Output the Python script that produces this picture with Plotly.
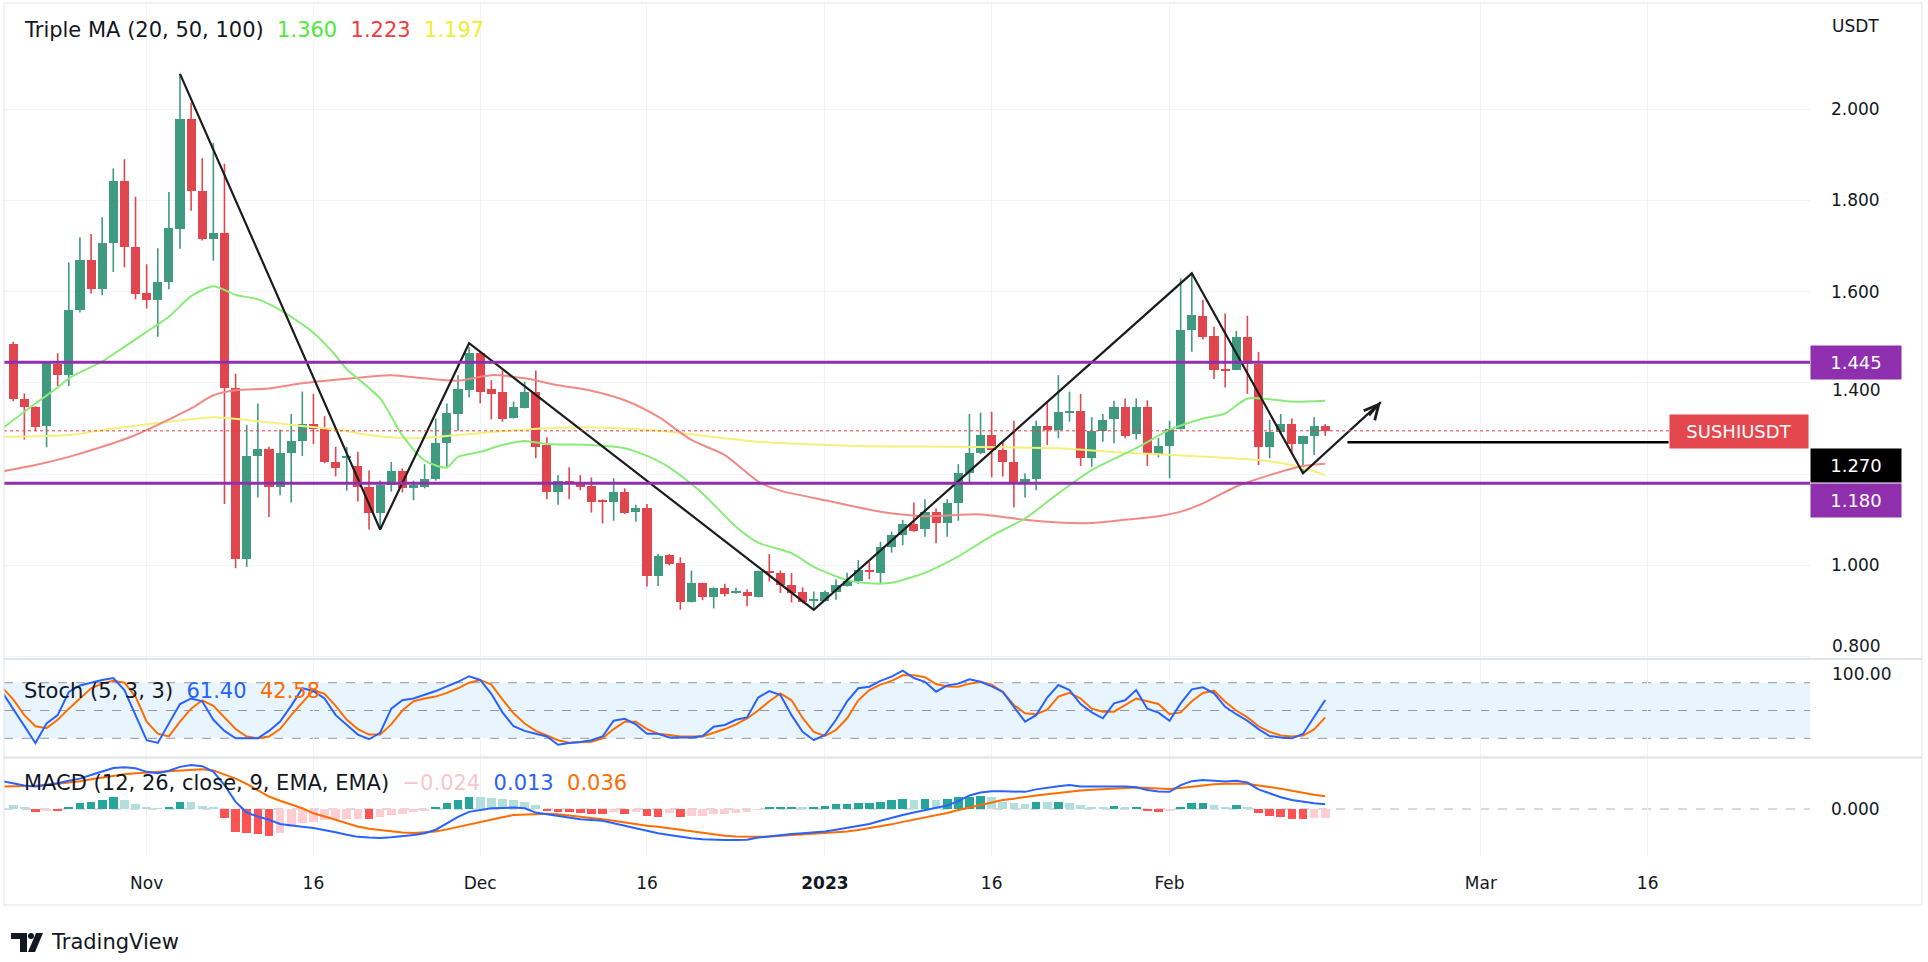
import pandas as pd
import plotly.graph_objects as go

W, H = 1928, 962

# ---------------- candles (daily, from 2022-10-20) ----------------
first_day = "2022-10-20"
opens = [1.485, 1.365, 1.348, 1.306, 1.441, 1.417, 1.560, 1.669, 1.606, 1.707, 1.842, 1.698,
         1.596, 1.582, 1.620, 1.738, 1.979, 1.821, 1.715, 1.728, 1.388, 1.014, 1.240, 1.256, 1.173, 1.246, 1.272,
         1.310, 1.298, 1.227, 1.235, 1.219, 1.171, 1.116, 1.176, 1.208, 1.169, 1.173, 1.189, 1.268, 1.332, 1.384,
         1.465, 1.386, 1.380, 1.324, 1.346, 1.380, 1.264, 1.160, 1.186, 1.184, 1.174, 1.142, 1.140, 1.161, 1.118,
         1.125, 0.976, 1.023, 1.005, 0.921, 0.962, 0.932, 0.950, 0.941, 0.941, 0.932, 0.987, 0.983, 0.957, 0.943, 0.923,
         0.923, 0.941, 0.955, 0.965, 0.989, 0.984, 1.041, 1.067, 1.091, 1.079, 1.118, 1.094, 1.138, 1.203, 1.247,
         1.286, 1.254, 1.227, 1.179, 1.189, 1.306, 1.297, 1.335, 1.339, 1.235, 1.295, 1.320, 1.348, 1.288, 1.348, 1.244,
         1.262, 1.298, 1.517, 1.547, 1.503, 1.430, 1.428, 1.500, 1.441, 1.259, 1.293, 1.310, 1.266, 1.284, 1.306]
highs = [1.490, 1.377, 1.349, 1.447, 1.465, 1.664, 1.719, 1.726, 1.763, 1.870, 1.890, 1.808,
         1.660, 1.695, 1.818, 2.077, 2.014, 1.892, 1.926, 1.880, 1.420, 1.308, 1.355, 1.260, 1.298, 1.332, 1.381,
         1.376, 1.327, 1.260, 1.260, 1.249, 1.208, 1.186, 1.227, 1.213, 1.186, 1.222, 1.322, 1.355, 1.417, 1.478,
         1.468, 1.406, 1.427, 1.359, 1.403, 1.427, 1.281, 1.198, 1.215, 1.198, 1.193, 1.145, 1.191, 1.169, 1.133,
         1.135, 1.025, 1.025, 1.018, 0.989, 0.962, 0.952, 0.960, 0.952, 0.948, 0.989, 1.025, 0.989, 0.984, 0.952, 0.943,
         0.945, 0.970, 0.984, 1.012, 1.008, 1.052, 1.074, 1.100, 1.138, 1.145, 1.125, 1.145, 1.222, 1.332, 1.335,
         1.337, 1.271, 1.317, 1.202, 1.317, 1.355, 1.417, 1.381, 1.376, 1.325, 1.332, 1.361, 1.366, 1.366, 1.362, 1.279,
         1.317, 1.629, 1.640, 1.582, 1.523, 1.552, 1.514, 1.547, 1.468, 1.319, 1.332, 1.322, 1.284, 1.325, 1.310]
lows = [1.360, 1.276, 1.295, 1.259, 1.393, 1.393, 1.554, 1.596, 1.592, 1.643, 1.653, 1.583,
        1.563, 1.501, 1.605, 1.694, 1.777, 1.712, 1.668, 1.135, 0.994, 0.997, 1.149, 1.106, 1.154, 1.138, 1.240,
        1.266, 1.224, 1.195, 1.164, 1.140, 1.079, 1.081, 1.162, 1.160, 1.143, 1.169, 1.186, 1.213, 1.295, 1.368,
        1.355, 1.320, 1.315, 1.322, 1.344, 1.235, 1.145, 1.133, 1.145, 1.165, 1.116, 1.092, 1.098, 1.113, 1.096,
        0.954, 0.955, 1.000, 0.903, 0.919, 0.924, 0.906, 0.932, 0.938, 0.911, 0.930, 0.965, 0.940, 0.919, 0.917, 0.903,
        0.921, 0.925, 0.954, 0.960, 0.970, 0.960, 1.028, 1.045, 1.074, 1.063, 1.049, 1.063, 1.098, 1.181, 1.244,
        1.193, 1.195, 1.127, 1.149, 1.165, 1.264, 1.279, 1.315, 1.218, 1.216, 1.271, 1.268, 1.279, 1.276, 1.218, 1.237,
        1.191, 1.298, 1.468, 1.495, 1.408, 1.390, 1.428, 1.376, 1.220, 1.235, 1.290, 1.247, 1.202, 1.242, 1.284]
closes = [1.364, 1.348, 1.303, 1.443, 1.417, 1.560, 1.669, 1.606, 1.707, 1.842, 1.697, 1.595,
          1.582, 1.620, 1.739, 1.979, 1.820, 1.715, 1.728, 1.388, 1.014, 1.240, 1.256, 1.173, 1.246, 1.272, 1.310,
          1.298, 1.227, 1.213, 1.240, 1.171, 1.116, 1.176, 1.208, 1.169, 1.176, 1.190, 1.269, 1.333, 1.386, 1.465,
          1.381, 1.376, 1.322, 1.348, 1.380, 1.259, 1.160, 1.186, 1.181, 1.171, 1.140, 1.139, 1.161, 1.116, 1.125,
          0.976, 1.021, 1.003, 0.921, 0.962, 0.932, 0.950, 0.938, 0.943, 0.933, 0.987, 0.983, 0.957, 0.939, 0.921, 0.925,
          0.943, 0.957, 0.967, 0.990, 0.986, 1.041, 1.067, 1.091, 1.076, 1.118, 1.094, 1.138, 1.203, 1.246, 1.286,
          1.254, 1.227, 1.179, 1.189, 1.306, 1.297, 1.337, 1.338, 1.235, 1.295, 1.319, 1.348, 1.284, 1.348, 1.244, 1.262,
          1.300, 1.517, 1.549, 1.501, 1.428, 1.427, 1.501, 1.441, 1.259, 1.293, 1.311, 1.266, 1.284, 1.306, 1.295]

# ---------------- Triple MA ----------------
ma20_dates = ["2022-10-19", "2022-10-22", "2022-10-24", "2022-10-25", "2022-10-28", "2022-10-30", "2022-11-01",
              "2022-11-03", "2022-11-05", "2022-11-07", "2022-11-09", "2022-11-11", "2022-11-13", "2022-11-16",
              "2022-11-18", "2022-11-19", "2022-11-22", "2022-11-24", "2022-11-26", "2022-11-28", "2022-11-29",
              "2022-12-01", "2022-12-03", "2022-12-05", "2022-12-07", "2022-12-11", "2022-12-14", "2022-12-16",
              "2022-12-18", "2022-12-21", "2022-12-24", "2022-12-26", "2022-12-29", "2022-12-31", "2023-01-03",
              "2023-01-05", "2023-01-07", "2023-01-09", "2023-01-10", "2023-01-13", "2023-01-16", "2023-01-19",
              "2023-01-22", "2023-01-25", "2023-01-29", "2023-02-01", "2023-02-04", "2023-02-06", "2023-02-08",
              "2023-02-10", "2023-02-12", "2023-02-15"]
ma20_vals = [1.300, 1.355, 1.390, 1.410, 1.447, 1.479, 1.512, 1.545, 1.590, 1.612, 1.593, 1.583, 1.560, 1.510,
             1.460, 1.430, 1.366, 1.285, 1.230, 1.215, 1.238, 1.249, 1.264, 1.273, 1.266, 1.264, 1.257, 1.240,
             1.215, 1.158, 1.085, 1.050, 1.027, 0.997, 0.968, 0.961, 0.962, 0.976, 0.984, 1.020, 1.065, 1.103,
             1.158, 1.209, 1.257, 1.297, 1.322, 1.333, 1.366, 1.364, 1.359, 1.361]
ma50_dates = ["2022-10-19", "2022-10-22", "2022-10-25", "2022-10-28", "2022-10-31", "2022-11-02", "2022-11-05",
              "2022-11-07", "2022-11-09", "2022-11-12", "2022-11-15", "2022-11-18", "2022-11-23", "2022-11-26",
              "2022-11-29", "2022-12-02", "2022-12-05", "2022-12-08", "2022-12-11", "2022-12-14", "2022-12-17",
              "2022-12-20", "2022-12-23", "2022-12-26", "2022-12-28", "2023-01-01", "2023-01-06", "2023-01-10",
              "2023-01-15", "2023-01-19", "2023-01-22", "2023-01-25", "2023-01-28", "2023-01-31", "2023-02-02",
              "2023-02-04", "2023-02-07", "2023-02-10", "2023-02-13", "2023-02-15"]
ma50_vals = [1.206, 1.220, 1.238, 1.260, 1.286, 1.308, 1.344, 1.373, 1.384, 1.388, 1.399, 1.407, 1.417, 1.410,
             1.405, 1.417, 1.410, 1.395, 1.383, 1.362, 1.326, 1.275, 1.242, 1.184, 1.164, 1.143, 1.118, 1.108,
             1.112, 1.100, 1.094, 1.093, 1.100, 1.108, 1.118, 1.136, 1.173, 1.198, 1.218, 1.223]
ma100_dates = ["2022-10-19", "2022-10-25", "2022-10-29", "2022-11-03", "2022-11-07", "2022-11-10", "2022-11-14",
               "2022-11-18", "2022-11-21", "2022-11-25", "2022-11-29", "2022-12-05", "2022-12-10", "2022-12-14",
               "2022-12-18", "2022-12-26", "2023-01-04", "2023-01-13", "2023-01-22", "2023-01-28", "2023-02-03",
               "2023-02-09", "2023-02-12", "2023-02-15"]
ma100_vals = [1.282, 1.286, 1.300, 1.315, 1.325, 1.319, 1.308, 1.298, 1.286, 1.279, 1.286, 1.298, 1.303, 1.300,
              1.293, 1.271, 1.262, 1.260, 1.257, 1.247, 1.240, 1.231, 1.220, 1.198]

# ---------------- Stochastic (5,3,3), daily from 2022-10-19 ----------------
ind_start = "2022-10-19"
stoch_k = [70, 52, 33, 15, 36, 45, 70, 77, 80, 83, 85, 72, 45,
           18, 15, 36, 57, 63, 60, 40, 28, 20, 20, 20, 28, 38, 55, 74, 71, 63, 45, 34, 24, 19, 26, 52, 61, 63, 67, 71, 76, 81, 87,
           83, 68, 48, 33, 28, 25, 22, 13, 15, 16, 18, 22, 39, 41, 35, 25, 25, 21, 21, 21, 22.5, 32.6, 34.4, 40, 42.6, 64, 71, 66.7, 45, 27, 18,
           23.6, 40, 60, 74, 75.7, 82, 86.5, 93, 85, 81, 70.3, 77, 79, 83.6, 81, 76, 70, 54, 38, 45, 64, 77.5, 72, 57, 48, 41.6, 57.7, 61, 72, 52, 47.7,
           39, 57.7, 72.8, 75, 68.5, 54, 46, 39, 30, 22.5, 21, 20, 24.7, 42.6, 61.4]
stoch_d = [75, 62, 45, 33, 31, 40, 52, 63, 74, 79, 82, 80, 65,
           38, 25, 22, 38, 52, 61, 55, 43, 30, 22, 20, 22, 30, 45, 58, 72, 68, 55, 40, 30, 24, 24, 35, 50, 60, 63, 65, 69, 74, 80,
           83, 78, 62, 47, 36, 28, 23, 18, 15.3, 16, 16.4, 20, 30, 38, 38, 30, 25, 23.6, 22, 22, 22, 26, 30, 35, 41.6, 50, 60, 68.5, 61, 42, 27,
           22.5, 29, 41.6, 61, 72, 78, 82, 88, 88, 86, 78.6, 76, 75.7, 79, 81, 78, 70, 56, 47, 46, 51, 65, 69, 63, 52, 48.7, 48.7, 56, 63, 60, 57,
           46, 48, 60, 69, 71.4, 59.5, 50, 42.6, 33, 27, 23, 22, 23, 29.7, 42.58]

# ---------------- MACD (12,26,close,9), daily from 2022-10-19 ----------------
macd_line = [0.078, 0.072, 0.066, 0.063, 0.067, 0.072, 0.079, 0.085, 0.095, 0.105, 0.115, 0.117, 0.114,
             0.104, 0.100, 0.107, 0.118, 0.123, 0.120, 0.105, 0.067, 0.020, -0.010, -0.021, -0.030, -0.042, -0.047,
             -0.050, -0.053, -0.058, -0.065, -0.072, -0.078, -0.080, -0.081, -0.079, -0.077, -0.073, -0.068, -0.058,
             -0.040, -0.022, -0.008, -0.002, 0.002, 0.003, 0.004, 0.002, -0.010, -0.015, -0.020, -0.025, -0.029,
             -0.031, -0.033, -0.040, -0.047, -0.055, -0.062, -0.068, -0.073, -0.078, -0.082, -0.085, -0.087, -0.087,
             -0.087, -0.086, -0.080, -0.076, -0.073, -0.070, -0.068, -0.066, -0.063, -0.058, -0.053, -0.047, -0.042,
             -0.033, -0.024, -0.017, -0.010, -0.004, 0.004, 0.010, 0.022, 0.038, 0.046, 0.050, 0.050, 0.048, 0.048,
             0.055, 0.060, 0.064, 0.067, 0.063, 0.063, 0.063, 0.064, 0.063, 0.061, 0.053, 0.049, 0.048, 0.067, 0.078,
             0.081, 0.078, 0.077, 0.079, 0.074, 0.055, 0.043, 0.033, 0.025, 0.020, 0.016, 0.013]
macd_signal = [0.063, 0.063, 0.064, 0.065, 0.067, 0.070, 0.074, 0.078, 0.083, 0.088, 0.093, 0.097, 0.100,
               0.102, 0.104, 0.106, 0.108, 0.110, 0.111, 0.108, 0.097, 0.085, 0.070, 0.052, 0.035, 0.023, 0.012,
               0.002, -0.012, -0.020, -0.030, -0.040, -0.049, -0.055, -0.059, -0.063, -0.066, -0.067, -0.066, -0.063,
               -0.057, -0.050, -0.042, -0.036, -0.030, -0.023, -0.017, -0.015, -0.014, -0.013, -0.015, -0.018, -0.021,
               -0.025, -0.029, -0.033, -0.038, -0.043, -0.047, -0.050, -0.054, -0.058, -0.063, -0.068, -0.072, -0.075,
               -0.077, -0.078, -0.078, -0.077, -0.075, -0.073, -0.071, -0.069, -0.068, -0.066, -0.063, -0.059, -0.054,
               -0.048, -0.043, -0.036, -0.030, -0.024, -0.018, -0.011, -0.003, 0.004, 0.011, 0.017, 0.025, 0.029, 0.034,
               0.038, 0.041, 0.045, 0.049, 0.052, 0.054, 0.056, 0.058, 0.059, 0.060, 0.059, 0.057, 0.056, 0.059, 0.063,
               0.066, 0.069, 0.071, 0.072, 0.071, 0.066, 0.062, 0.057, 0.051, 0.045, 0.040, 0.036]
hist_start = "2022-10-20"
macd_hist = [0.012, 0.006, -0.008, -0.004, -0.005, 0.006, 0.017, 0.021, 0.024, 0.035, 0.026, 0.014,
             0.007, 0.002, 0.007, 0.020, 0.019, 0.009, 0.003, -0.025, -0.065, -0.067, -0.069, -0.075, -0.067, -0.051,
             -0.039, -0.037, -0.030, -0.028, -0.0275, -0.027, -0.028, -0.021, -0.017, -0.014, -0.008, -0.004, 0.007,
             0.017, 0.024, 0.035, 0.034, 0.031, 0.028, 0.024, 0.019, 0.012, -0.004, -0.007, -0.008, -0.011, -0.014,
             -0.0145, -0.008, -0.015, -0.009, -0.019, -0.021, -0.011, -0.022, -0.020, -0.019, -0.014, -0.0135, -0.011,
             -0.007, -0.002, 0.006, 0.0062, 0.0064, 0.004, 0.006, 0.009, 0.013, 0.0132, 0.017, 0.0172, 0.021, 0.024,
             0.029, 0.026, 0.028, 0.024, 0.028, 0.033, 0.035, 0.036, 0.034, 0.021, 0.017, 0.015, 0.020, 0.019, 0.020,
             0.017, 0.012, 0.007, 0.007, 0.009, 0.004, 0.006, -0.005, -0.008, -0.005, 0.006, 0.017, 0.0172, 0.012,
             0.007, 0.010, 0.004, -0.011, -0.019, -0.023, -0.027, -0.028, -0.026, -0.024]

# ---------------- drawings ----------------
zigzag_dates = ["2022-11-04", "2022-11-22", "2022-11-30", "2022-12-31", "2023-02-03", "2023-02-13", "2023-02-20"]
zigzag_prices = [2.077, 1.079, 1.487, 0.903, 1.640, 1.202, 1.358]
levels = [1.445, 1.180]
target_level = 1.270
target_dates = ["2023-02-17", "2023-03-17 21:00"]
last_price = 1.295
legend_ma = ["1.360", "1.223", "1.197"]
legend_stoch = ["61.40", "42.58"]
legend_macd = ["\u22120.024", "0.013", "0.036"]

x_tickvals = ["2022-11-01", "2022-11-16", "2022-12-01", "2022-12-16", "2023-01-01", "2023-01-16",
              "2023-02-01", "2023-03-01", "2023-03-16"]
x_ticktext = ["Nov", "16", "Dec", "16", "<b>2023</b>", "16", "Feb", "Mar", "16"]
price_ticks = [0.8, 1.0, 1.2, 1.4, 1.6, 1.8, 2.0]
price_ticktext = ["", "1.000", "", "", "1.600", "1.800", "2.000"]   # 0.800 / 1.400 drawn beside the badges

# ---------------- styling ----------------
FONT = "DejaVu Sans"
TXT = "#131722"
UP, DOWN = "#3f9a80", "#e0464e"
GRID = "#f0f3fa"
PURPLE = "#8f2fae"


def px(x):
    return x / W


def py(y):
    return 1 - y / H


dates = pd.date_range(first_day, periods=len(opens), freq="D")
ind_dates = pd.date_range(ind_start, periods=len(stoch_k), freq="D")
macd_dates = pd.date_range(ind_start, periods=len(macd_line), freq="D")
hdates = pd.date_range(hist_start, periods=len(macd_hist), freq="D")
DAY_MS = 86400000

fig = go.Figure()

# wicks
for up in (True, False):
    xs, ys = [], []
    for d, o, h, l, c in zip(dates, opens, highs, lows, closes):
        if (c >= o) == up:
            xs += [d, d, None]
            ys += [l, h, None]
    fig.add_trace(go.Scatter(x=xs, y=ys, mode="lines", line=dict(color=UP if up else DOWN, width=1.6),
                             hoverinfo="skip", xaxis="x", yaxis="y"))

# bodies
fig.add_trace(go.Bar(x=dates, y=[c - o for o, c in zip(opens, closes)], base=opens,
                     width=0.82 * DAY_MS,
                     marker=dict(color=[UP if c >= o else DOWN for o, c in zip(opens, closes)], line=dict(width=0)),
                     xaxis="x", yaxis="y"))

# moving averages
for dts, vals, col in ((ma100_dates, ma100_vals, "#f3f07e"), (ma50_dates, ma50_vals, "#f08a84"),
                       (ma20_dates, ma20_vals, "#8aec78")):
    fig.add_trace(go.Scatter(x=dts, y=vals, mode="lines", line=dict(color=col, width=2, shape="spline", smoothing=0.7),
                             xaxis="x", yaxis="y"))

# zigzag
fig.add_trace(go.Scatter(x=zigzag_dates, y=zigzag_prices, mode="lines", line=dict(color="#1c1c1c", width=2.2),
                         xaxis="x", yaxis="y"))

# stochastic
fig.add_trace(go.Scatter(x=ind_dates, y=stoch_d, mode="lines", line=dict(color="#ff6d00", width=2), xaxis="x", yaxis="y2"))
fig.add_trace(go.Scatter(x=ind_dates, y=stoch_k, mode="lines", line=dict(color="#2962ff", width=2), xaxis="x", yaxis="y2"))

# MACD histogram
hcols = []
prev = None
for v in macd_hist:
    rising = prev is not None and v > prev
    if v >= 0:
        hcols.append("#26a69a" if rising else "#b2dfdb")
    else:
        hcols.append("#ffcdd2" if rising else "#ff5252")
    prev = v
fig.add_trace(go.Bar(x=hdates, y=macd_hist, width=0.78 * DAY_MS, marker=dict(color=hcols, line=dict(width=0)),
                     xaxis="x", yaxis="y3"))
fig.add_trace(go.Scatter(x=macd_dates, y=macd_signal, mode="lines", line=dict(color="#ff6d00", width=2), xaxis="x", yaxis="y3"))
fig.add_trace(go.Scatter(x=macd_dates, y=macd_line, mode="lines", line=dict(color="#2962ff", width=2), xaxis="x", yaxis="y3"))

shapes = []
# stoch band and levels
shapes.append(dict(type="rect", xref="x domain", yref="y2", x0=0, x1=1, y0=20, y1=80,
                   fillcolor="rgba(33,150,243,0.10)", line=dict(width=0), layer="below"))
for lv in (80, 50, 20):
    shapes.append(dict(type="line", xref="x domain", yref="y2", x0=0, x1=1, y0=lv, y1=lv,
                       line=dict(color="#9598a1", width=1, dash="dash"), layer="below"))
shapes.append(dict(type="line", xref="x domain", yref="y3", x0=0, x1=1, y0=0, y1=0,
                   line=dict(color="#b2b5be", width=1, dash="dash"), layer="below"))
# purple levels
for lv in levels:
    shapes.append(dict(type="line", xref="x domain", yref="y", x0=0, x1=1, y0=lv, y1=lv,
                       line=dict(color=PURPLE, width=3)))
# last price dotted
shapes.append(dict(type="line", xref="x domain", yref="y", x0=0, x1=(1669 - 4) / (1810 - 4), y0=last_price, y1=last_price,
                   line=dict(color="#f23645", width=1, dash="dot")))
# target line
shapes.append(dict(type="line", xref="x", yref="y", x0=target_dates[0], x1=target_dates[1],
                   y0=target_level, y1=target_level, line=dict(color="#000000", width=2.5)))
# frame and separators
shapes.append(dict(type="rect", xref="paper", yref="paper", x0=px(4), x1=px(1922), y0=py(905), y1=py(3),
                   line=dict(color="#e0e3eb", width=1)))
for yy in (659, 757.5):
    shapes.append(dict(type="line", xref="paper", yref="paper", x0=px(4), x1=px(1922), y0=py(yy), y1=py(yy),
                       line=dict(color="#e0e3eb", width=2)))


# TradingView logo glyph
def pth(pts):
    return "M" + " L".join(f"{px(a):.5f},{py(b):.5f}" for a, b in pts) + " Z"


shapes.append(dict(type="path", xref="paper", yref="paper",
                   path=pth([(11, 933), (27, 933), (27, 952), (20, 952), (20, 939), (11, 939)]),
                   fillcolor=TXT, line=dict(width=0)))
shapes.append(dict(type="circle", xref="paper", yref="paper", x0=px(28), x1=px(34), y0=py(939), y1=py(933),
                   fillcolor=TXT, line=dict(width=0)))
shapes.append(dict(type="path", xref="paper", yref="paper",
                   path=pth([(36, 933), (43, 933), (35, 952), (28, 952)]), fillcolor=TXT, line=dict(width=0)))

ann = []


def label(x, y, text, size=18, color=TXT, xanchor="left", yanchor="middle", **kw):
    ann.append(dict(xref="paper", yref="paper", x=px(x), y=py(y), text=text, showarrow=False,
                    xanchor=xanchor, yanchor=yanchor, font=dict(family=FONT, size=size, color=color), **kw))


sp = "&nbsp;&nbsp;"
label(22, 30, "Triple MA (20, 50, 100)" + sp + f"<span style='color:#4fe83a'>{legend_ma[0]}</span>" + sp +
      f"<span style='color:#f23b3b'>{legend_ma[1]}</span>" + sp + f"<span style='color:#eeee30'>{legend_ma[2]}</span>", size=21)
label(22, 691, "Stoch (5, 3, 3)" + sp + f"<span style='color:#2962ff'>{legend_stoch[0]}</span>" + sp +
      f"<span style='color:#ff6d00'>{legend_stoch[1]}</span>", size=21)
label(22, 783, "MACD (12, 26, close, 9, EMA, EMA)" + sp + f"<span style='color:#f8c6cb'>{legend_macd[0]}</span>" + sp +
      f"<span style='color:#2962ff'>{legend_macd[1]}</span>" + sp + f"<span style='color:#ff6d00'>{legend_macd[2]}</span>", size=21)
label(1830, 26, "USDT", size=17)
# price-scale labels squeezed at the pane boundary / below the level badge
label(1830, 658, "0.800", size=17, yanchor="bottom")
label(1830, 662, "100.00", size=17, yanchor="top")
label(1830, 390, "1.400", size=17)
label(49, 942, "TradingView", size=21)

# price badges
for yc, txt, bg in ((362.5, "1.445", PURPLE), (465, "1.270", "#000000"), (500.5, "1.180", PURPLE)):
    label(1810, yc, txt, size=18, color="#ffffff", bgcolor=bg, width=86, height=29, borderpad=2, align="center")
label(1669, 431, "SUSHIUSDT", size=18, color="#ffffff", bgcolor="#e5474f", width=134, height=29, borderpad=2, align="center")

# arrow head on zigzag end
ann.append(dict(x=zigzag_dates[-1], y=zigzag_prices[-1], xref="x", yref="y", ax=-13, ay=15, showarrow=True,
                arrowhead=5, arrowsize=1.3, arrowwidth=2.2, arrowcolor="#1c1c1c", text=""))

fig.update_layout(
    width=W, height=H, margin=dict(l=0, r=0, t=0, b=0),
    paper_bgcolor="white", plot_bgcolor="white", showlegend=False, barmode="overlay", bargap=0,
    font=dict(family=FONT, color=TXT, size=17),
    shapes=shapes, annotations=ann,
    xaxis=dict(domain=[px(4), px(1810)], anchor="y3", type="date",
               range=["2022-10-19 04:05", "2023-03-30 14:24"],
               tickvals=x_tickvals, ticktext=x_ticktext, showgrid=True, gridcolor=GRID, gridwidth=1,
               zeroline=False, showline=False, ticks="", ticklabelstandoff=14,
               tickfont=dict(family=FONT, size=17, color=TXT), rangeslider=dict(visible=False), fixedrange=True),
    yaxis=dict(domain=[py(658), py(3)], range=[0.7974, 2.2322], side="right", anchor="x",
               tickvals=price_ticks, ticktext=price_ticktext,
               showgrid=True, gridcolor=GRID, zeroline=False, showline=False, ticks="", ticklabelstandoff=20,
               tickfont=dict(family=FONT, size=17, color=TXT)),
    yaxis2=dict(domain=[py(757), py(660)], range=[-0.15, 104.5], side="right", anchor="x",
                showticklabels=False, showgrid=False, zeroline=False, showline=False, ticks=""),
    yaxis3=dict(domain=[py(857), py(758)], range=[-0.1344, 0.1428], side="right", anchor="x",
                tickvals=[0], ticktext=["0.000"], showgrid=False, zeroline=False, showline=False, ticks="",
                ticklabelstandoff=20, tickfont=dict(family=FONT, size=17, color=TXT)),
)

fig.write_html("out.html", config={"displayModeBar": False},
               post_script="document.body.style.margin='0';document.body.style.overflow='hidden';")
